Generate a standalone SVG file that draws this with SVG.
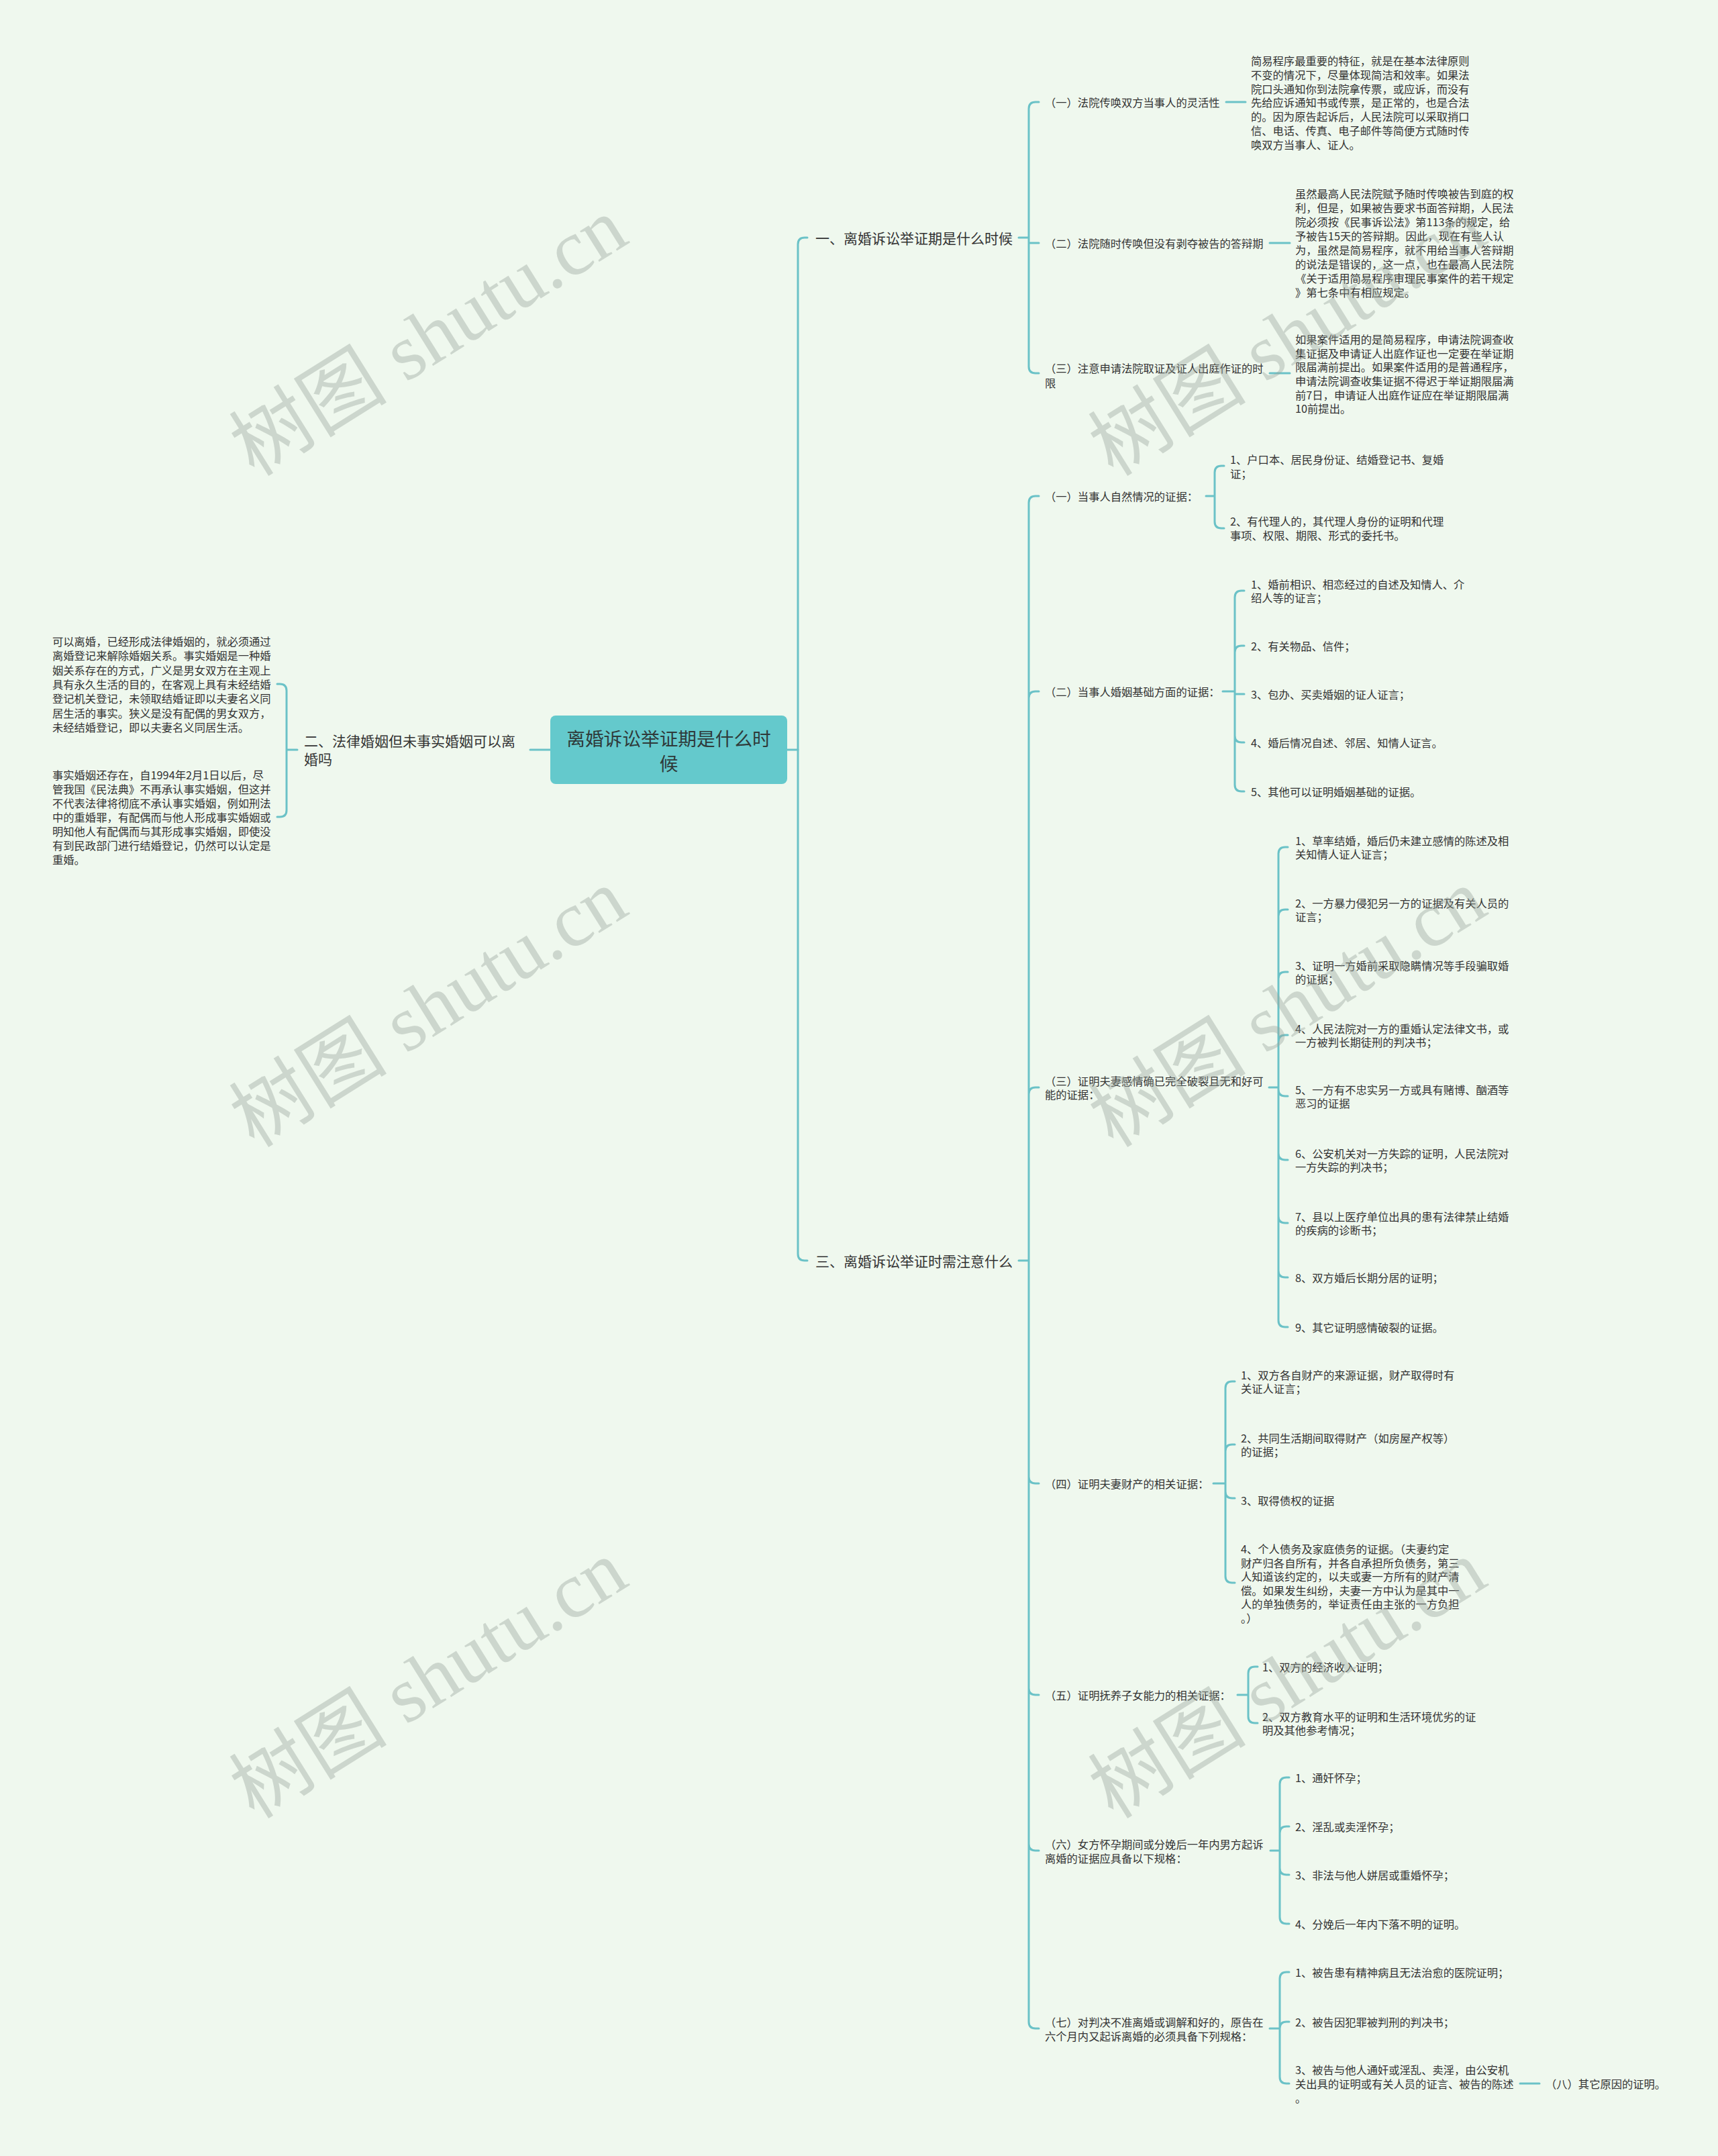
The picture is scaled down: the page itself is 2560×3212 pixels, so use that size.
<svg xmlns="http://www.w3.org/2000/svg" width="2560" height="3212" viewBox="0 0 2560 3212">
<style>
.c{stroke:#6bc2c7;stroke-width:3;fill:none;stroke-linecap:round;stroke-linejoin:round}
.t{font-family:"Noto Sans CJK SC","Noto Sans",sans-serif;font-size:16.3px;fill:#333;dominant-baseline:central}
.s{font-size:21px}
.m{font-size:27.7px;fill:#2f3a3a;text-anchor:middle}
.w{font-family:"Liberation Serif","Noto Sans CJK SC",serif;font-size:118px;fill:#9aa59c;opacity:0.4;text-anchor:middle}
</style>
<rect width="2560" height="3212" fill="#eff8ee"/>
<g id="connectors">
<path class="c" d="M1173 1117 L1189 1117 M790 1117 L820 1117"/>
<path class="c" d="M1203 354 L1199 354 Q1189 354 1189 364 L1189 1868 Q1189 1878 1199 1878 L1203 1878"/>
<path class="c" d="M1518 354 L1533 354 M1548 152 L1543 152 Q1533 152 1533 162 L1533 546 Q1533 556 1543 556 L1548 556 M1533 362 L1548 362"/>
<path class="c" d="M1827 152 L1856 152 M1892 362 L1922 362 M1892 556 L1922 556"/>
<path class="c" d="M1518 1878 L1533 1878 M1548 739 L1543 739 Q1533 739 1533 749 L1533 3012 Q1533 3022 1543 3022 L1548 3022 M1533 1040 Q1533 1030 1543 1030 L1548 1030 M1533 1630 Q1533 1620 1543 1620 L1548 1620 M1533 2200 Q1533 2210 1543 2210 L1548 2210 M1533 2515 Q1533 2525 1543 2525 L1548 2525 M1533 2747 Q1533 2757 1543 2757 L1548 2757"/>
<path class="c" d="M1797 739 L1810 739 M1824 694 L1820 694 Q1810 694 1810 704 L1810 777 Q1810 787 1820 787 L1824 787"/>
<path class="c" d="M1822 1030 L1840 1030 M1854 880 L1850 880 Q1840 880 1840 890 L1840 1169 Q1840 1179 1850 1179 L1854 1179 M1840 972 Q1840 962 1850 962 L1854 962 M1840 1034 L1854 1034 M1840 1096 Q1840 1106 1850 1106 L1854 1106"/>
<path class="c" d="M1891 1620 L1905 1620 M1919 1262 L1915 1262 Q1905 1262 1905 1272 L1905 1967 Q1905 1977 1915 1977 L1919 1977 M1905 1365 Q1905 1355 1915 1355 L1919 1355 M1905 1458 Q1905 1448 1915 1448 L1919 1448 M1905 1552 Q1905 1542 1915 1542 L1919 1542 M1905 1623 Q1905 1633 1915 1633 L1919 1633 M1905 1718 Q1905 1728 1915 1728 L1919 1728 M1905 1812 Q1905 1822 1915 1822 L1919 1822 M1905 1893 Q1905 1903 1915 1903 L1919 1903"/>
<path class="c" d="M1808 2210 L1826 2210 M1840 2058 L1836 2058 Q1826 2058 1826 2068 L1826 2348 Q1826 2358 1836 2358 L1840 2358 M1826 2162 Q1826 2152 1836 2152 L1840 2152 M1826 2222 Q1826 2232 1836 2232 L1840 2232"/>
<path class="c" d="M1844 2525 L1860 2525 M1874 2483 L1870 2483 Q1860 2483 1860 2493 L1860 2557 Q1860 2567 1870 2567 L1874 2567"/>
<path class="c" d="M1893 2757 L1907 2757 M1921 2648 L1917 2648 Q1907 2648 1907 2658 L1907 2856 Q1907 2866 1917 2866 L1921 2866 M1907 2731 Q1907 2721 1917 2721 L1921 2721 M1907 2783 Q1907 2793 1917 2793 L1921 2793"/>
<path class="c" d="M1892 3022 L1907 3022 M1921 2938 L1917 2938 Q1907 2938 1907 2948 L1907 3094 Q1907 3104 1917 3104 L1921 3104 M1907 3022 Q1907 3012 1917 3012 L1921 3012 M2265 3104 L2294 3104"/>
<path class="c" d="M427 1117 L443 1117 M413 1019 L417 1019 Q427 1019 427 1029 L427 1207 Q427 1217 417 1217 L413 1217"/>
</g>
<g id="root">
<rect x="820" y="1066" width="353" height="102" rx="8" fill="#64c9cc"/>
<text class="t m"><tspan x="996.5" y="1099">离婚诉讼举证期是什么时</tspan><tspan x="996.5" y="1136">候</tspan></text>
</g>
<g id="sec2"><text class="t s"><tspan x="453" y="1103">二、法律婚姻但未事实婚姻可以离</tspan><tspan x="453" y="1130">婚吗</tspan></text></g>
<g id="sec2-a"><text class="t"><tspan x="78" y="955">可以离婚，已经形成法律婚姻的，就必须通过</tspan><tspan x="78" y="976">离婚登记来解除婚姻关系。事实婚姻是一种婚</tspan><tspan x="78" y="998">姻关系存在的方式，广义是男女双方在主观上</tspan><tspan x="78" y="1019">具有永久生活的目的，在客观上具有未经结婚</tspan><tspan x="78" y="1040">登记机关登记，未领取结婚证即以夫妻名义同</tspan><tspan x="78" y="1062">居生活的事实。狭义是没有配偶的男女双方，</tspan><tspan x="78" y="1083">未经结婚登记，即以夫妻名义同居生活。</tspan></text></g>
<g id="sec2-b"><text class="t"><tspan x="78" y="1154">事实婚姻还存在，自1994年2月1日以后，尽</tspan><tspan x="78" y="1175">管我国《民法典》不再承认事实婚姻，但这并</tspan><tspan x="78" y="1196">不代表法律将彻底不承认事实婚姻，例如刑法</tspan><tspan x="78" y="1217">中的重婚罪，有配偶而与他人形成事实婚姻或</tspan><tspan x="78" y="1238">明知他人有配偶而与其形成事实婚姻，即使没</tspan><tspan x="78" y="1259">有到民政部门进行结婚登记，仍然可以认定是</tspan><tspan x="78" y="1280">重婚。</tspan></text></g>
<g id="sec1"><text class="t s" x="1215" y="354">一、离婚诉讼举证期是什么时候</text></g>
<g id="sec1-1"><text class="t" x="1557" y="152">（一）法院传唤双方当事人的灵活性</text></g>
<g id="sec1-1-a"><text class="t"><tspan x="1864" y="90">简易程序最重要的特征，就是在基本法律原则</tspan><tspan x="1864" y="110.8">不变的情况下，尽量体现简洁和效率。如果法</tspan><tspan x="1864" y="131.6">院口头通知你到法院拿传票，或应诉，而没有</tspan><tspan x="1864" y="152.4">先给应诉通知书或传票，是正常的，也是合法</tspan><tspan x="1864" y="173.2">的。因为原告起诉后，人民法院可以采取捎口</tspan><tspan x="1864" y="194">信、电话、传真、电子邮件等简便方式随时传</tspan><tspan x="1864" y="214.8">唤双方当事人、证人。</tspan></text></g>
<g id="sec1-2"><text class="t" x="1557" y="362">（二）法院随时传唤但没有剥夺被告的答辩期</text></g>
<g id="sec1-2-a"><text class="t"><tspan x="1930" y="288">虽然最高人民法院赋予随时传唤被告到庭的权</tspan><tspan x="1930" y="309">利，但是，如果被告要求书面答辩期，人民法</tspan><tspan x="1930" y="330">院必须按《民事诉讼法》第113条的规定，给</tspan><tspan x="1930" y="351">予被告15天的答辩期。因此，现在有些人认</tspan><tspan x="1930" y="372">为，虽然是简易程序，就不用给当事人答辩期</tspan><tspan x="1930" y="393">的说法是错误的，这一点，也在最高人民法院</tspan><tspan x="1930" y="414">《关于适用简易程序审理民事案件的若干规定</tspan><tspan x="1930" y="435">》第七条中有相应规定。</tspan></text></g>
<g id="sec1-3"><text class="t"><tspan x="1557" y="548">（三）注意申请法院取证及证人出庭作证的时</tspan><tspan x="1557" y="570">限</tspan></text></g>
<g id="sec1-3-a"><text class="t"><tspan x="1930" y="505">如果案件适用的是简易程序，申请法院调查收</tspan><tspan x="1930" y="526">集证据及申请证人出庭作证也一定要在举证期</tspan><tspan x="1930" y="546">限届满前提出。如果案件适用的是普通程序，</tspan><tspan x="1930" y="567">申请法院调查收集证据不得迟于举证期限届满</tspan><tspan x="1930" y="588">前7日，申请证人出庭作证应在举证期限届满</tspan><tspan x="1930" y="608">10前提出。</tspan></text></g>
<g id="sec3"><text class="t s" x="1215" y="1878">三、离婚诉讼举证时需注意什么</text></g>
<g id="sec3-1"><text class="t" x="1557" y="739">（一）当事人自然情况的证据：</text></g>
<g id="sec3-1-1"><text class="t"><tspan x="1833" y="684">1、户口本、居民身份证、结婚登记书、复婚</tspan><tspan x="1833" y="705">证；</tspan></text></g>
<g id="sec3-1-2"><text class="t"><tspan x="1833" y="776">2、有代理人的，其代理人身份的证明和代理</tspan><tspan x="1833" y="797">事项、权限、期限、形式的委托书。</tspan></text></g>
<g id="sec3-2"><text class="t" x="1557" y="1030">（二）当事人婚姻基础方面的证据：</text></g>
<g id="sec3-2-1"><text class="t"><tspan x="1864" y="870">1、婚前相识、相恋经过的自述及知情人、介</tspan><tspan x="1864" y="890">绍人等的证言；</tspan></text></g>
<g id="sec3-2-2"><text class="t" x="1864" y="962">2、有关物品、信件；</text></g>
<g id="sec3-2-3"><text class="t" x="1864" y="1034">3、包办、买卖婚姻的证人证言；</text></g>
<g id="sec3-2-4"><text class="t" x="1864" y="1106">4、婚后情况自述、邻居、知情人证言。</text></g>
<g id="sec3-2-5"><text class="t" x="1864" y="1179">5、其他可以证明婚姻基础的证据。</text></g>
<g id="sec3-3"><text class="t"><tspan x="1557" y="1610">（三）证明夫妻感情确已完全破裂且无和好可</tspan><tspan x="1557" y="1630">能的证据：</tspan></text></g>
<g id="sec3-3-1"><text class="t"><tspan x="1930" y="1252">1、草率结婚，婚后仍未建立感情的陈述及相</tspan><tspan x="1930" y="1272">关知情人证人证言；</tspan></text></g>
<g id="sec3-3-2"><text class="t"><tspan x="1930" y="1345">2、一方暴力侵犯另一方的证据及有关人员的</tspan><tspan x="1930" y="1365">证言；</tspan></text></g>
<g id="sec3-3-3"><text class="t"><tspan x="1930" y="1438">3、证明一方婚前采取隐瞒情况等手段骗取婚</tspan><tspan x="1930" y="1458">的证据；</tspan></text></g>
<g id="sec3-3-4"><text class="t"><tspan x="1930" y="1532">4、人民法院对一方的重婚认定法律文书，或</tspan><tspan x="1930" y="1552">一方被判长期徒刑的判决书；</tspan></text></g>
<g id="sec3-3-5"><text class="t"><tspan x="1930" y="1623">5、一方有不忠实另一方或具有赌博、酗酒等</tspan><tspan x="1930" y="1643">恶习的证据</tspan></text></g>
<g id="sec3-3-6"><text class="t"><tspan x="1930" y="1718">6、公安机关对一方失踪的证明，人民法院对</tspan><tspan x="1930" y="1738">一方失踪的判决书；</tspan></text></g>
<g id="sec3-3-7"><text class="t"><tspan x="1930" y="1812">7、县以上医疗单位出具的患有法律禁止结婚</tspan><tspan x="1930" y="1832">的疾病的诊断书；</tspan></text></g>
<g id="sec3-3-8"><text class="t" x="1930" y="1903">8、双方婚后长期分居的证明；</text></g>
<g id="sec3-3-9"><text class="t" x="1930" y="1977">9、其它证明感情破裂的证据。</text></g>
<g id="sec3-4"><text class="t" x="1557" y="2210">（四）证明夫妻财产的相关证据：</text></g>
<g id="sec3-4-1"><text class="t"><tspan x="1849" y="2048">1、双方各自财产的来源证据，财产取得时有</tspan><tspan x="1849" y="2068">关证人证言；</tspan></text></g>
<g id="sec3-4-2"><text class="t"><tspan x="1849" y="2142">2、共同生活期间取得财产（如房屋产权等）</tspan><tspan x="1849" y="2162">的证据；</tspan></text></g>
<g id="sec3-4-3"><text class="t" x="1849" y="2235">3、取得债权的证据</text></g>
<g id="sec3-4-4"><text class="t"><tspan x="1849" y="2307">4、个人债务及家庭债务的证据。（夫妻约定</tspan><tspan x="1849" y="2327.6">财产归各自所有，并各自承担所负债务，第三</tspan><tspan x="1849" y="2348.2">人知道该约定的，以夫或妻一方所有的财产清</tspan><tspan x="1849" y="2368.8">偿。如果发生纠纷，夫妻一方中认为是其中一</tspan><tspan x="1849" y="2389.4">人的单独债务的，举证责任由主张的一方负担</tspan><tspan x="1849" y="2410">。）</tspan></text></g>
<g id="sec3-5"><text class="t" x="1557" y="2525">（五）证明抚养子女能力的相关证据：</text></g>
<g id="sec3-5-1"><text class="t" x="1881" y="2483">1、双方的经济收入证明；</text></g>
<g id="sec3-5-2"><text class="t"><tspan x="1881" y="2557">2、双方教育水平的证明和生活环境优劣的证</tspan><tspan x="1881" y="2577">明及其他参考情况；</tspan></text></g>
<g id="sec3-6"><text class="t"><tspan x="1557" y="2747">（六）女方怀孕期间或分娩后一年内男方起诉</tspan><tspan x="1557" y="2768">离婚的证据应具备以下规格：</tspan></text></g>
<g id="sec3-6-1"><text class="t" x="1930" y="2648">1、通奸怀孕；</text></g>
<g id="sec3-6-2"><text class="t" x="1930" y="2721">2、淫乱或卖淫怀孕；</text></g>
<g id="sec3-6-3"><text class="t" x="1930" y="2793">3、非法与他人姘居或重婚怀孕；</text></g>
<g id="sec3-6-4"><text class="t" x="1930" y="2866">4、分娩后一年内下落不明的证明。</text></g>
<g id="sec3-7"><text class="t"><tspan x="1557" y="3012">（七）对判决不准离婚或调解和好的，原告在</tspan><tspan x="1557" y="3033">六个月内又起诉离婚的必须具备下列规格：</tspan></text></g>
<g id="sec3-7-1"><text class="t" x="1930" y="2938">1、被告患有精神病且无法治愈的医院证明；</text></g>
<g id="sec3-7-2"><text class="t" x="1930" y="3012">2、被告因犯罪被判刑的判决书；</text></g>
<g id="sec3-7-3"><text class="t"><tspan x="1930" y="3083">3、被告与他人通奸或淫乱、卖淫，由公安机</tspan><tspan x="1930" y="3104">关出具的证明或有关人员的证言、被告的陈述</tspan><tspan x="1930" y="3125">。</tspan></text></g>
<g id="sec3-8"><text class="t" x="2303" y="3104">（八）其它原因的证明。</text></g>
<g id="watermarks">
<text class="w" x="645" y="540" transform="rotate(-32 645 512)">树图 shutu.cn</text>
<text class="w" x="1925" y="540" transform="rotate(-32 1925 512)">树图 shutu.cn</text>
<text class="w" x="645" y="1540" transform="rotate(-32 645 1512)">树图 shutu.cn</text>
<text class="w" x="1925" y="1540" transform="rotate(-32 1925 1512)">树图 shutu.cn</text>
<text class="w" x="645" y="2540" transform="rotate(-32 645 2512)">树图 shutu.cn</text>
<text class="w" x="1925" y="2540" transform="rotate(-32 1925 2512)">树图 shutu.cn</text>
</g>
</svg>
